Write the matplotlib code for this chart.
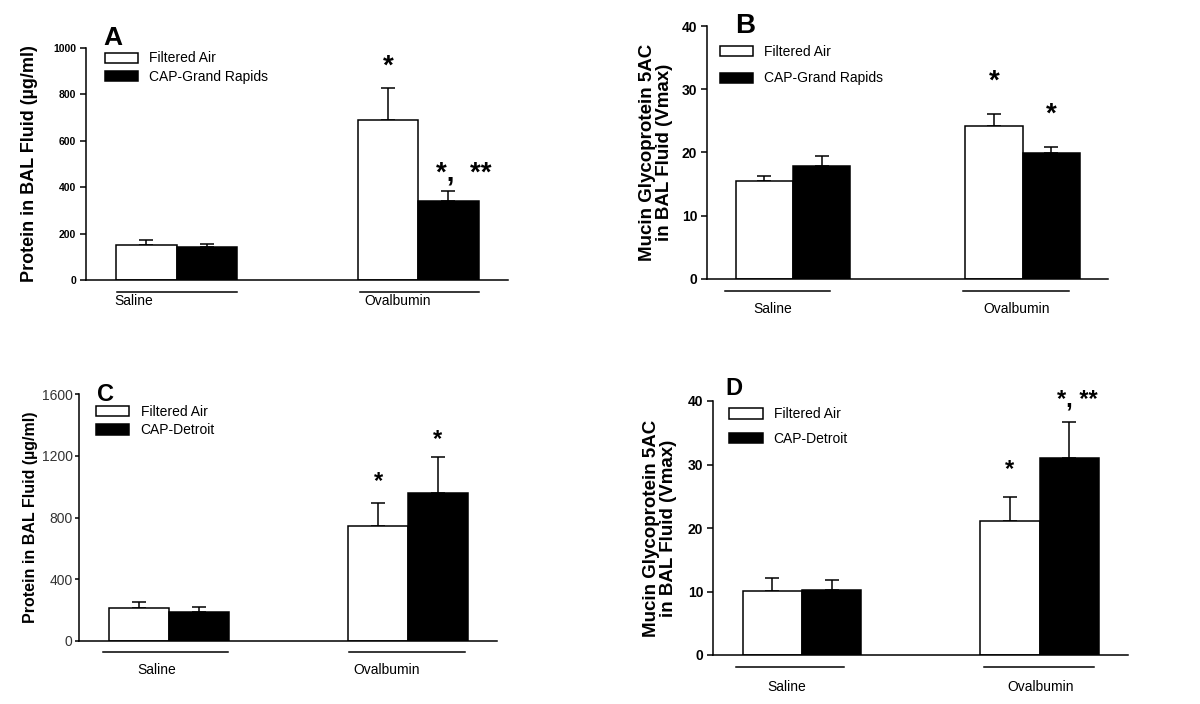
import matplotlib
matplotlib.use('Agg')
import matplotlib.pyplot as plt
from matplotlib.patches import Patch
import numpy as np

plt.rcParams['font.family'] = ['Liberation Sans', 'DejaVu Sans']

# === Data ===
groups = ['Saline', 'Ovalbumin']

fa_a = [151, 690]
fa_a_err = [20, 137]
cap_a = [141, 339]
cap_a_err = [16, 45]

fa_b = [15.5, 24.2]
fa_b_err = [0.8, 1.9]
cap_b = [17.8, 19.9]
cap_b_err = [1.6, 1.0]

fa_c = [216, 746]
fa_c_err = [35, 145]
cap_c = [188, 956]
cap_c_err = [31, 237]

fa_d = [10.1, 21.1]
fa_d_err = [2.0, 3.8]
cap_d = [10.3, 31.1]
cap_d_err = [1.5, 5.6]

yticks_a = [0, 200, 400, 600, 800, 1000]
yticks_b = [0, 10, 20, 30, 40]
yticks_c = [0, 400, 800, 1200, 1600]
yticks_d = [0, 10, 20, 30, 40]

stars_a = (['', '*'], ['', '*,  **'])
stars_b = (['', '*'], ['', '*'])
stars_c = (['', '*'], ['', '*'])
stars_d = (['', '*'], ['', '*, **'])

W, H = 1200, 704
fig = plt.figure(figsize=(12, 7.04), dpi=100)


def px_axes(left, top, right, bottom):
    return fig.add_axes([left / W, 1 - bottom / H, (right - left) / W, (bottom - top) / H])


def draw_panel(ax, letter, fa, fa_err, cap, cap_err, yticks, stars, ylabel,
               cap_name, opts):
    x = np.arange(len(groups))
    bw = 0.25
    ax.bar(x - bw / 2, fa, bw, color='white', edgecolor='black', linewidth=1.1, zorder=2)
    ax.bar(x + bw / 2, cap, bw, color='black', edgecolor='black', linewidth=1.1, zorder=2)
    ax.errorbar(x - bw / 2, fa, yerr=[np.zeros(len(fa)), fa_err], fmt='none',
                ecolor='black', elinewidth=1.1, capsize=4.8, capthick=1.1, zorder=1)
    ax.errorbar(x + bw / 2, cap, yerr=[np.zeros(len(cap)), cap_err], fmt='none',
                ecolor='black', elinewidth=1.1, capsize=4.8, capthick=1.1, zorder=1)

    # significance marks
    for xs, means, errs, labs, dx, gap in [
            (x - bw / 2, fa, fa_err, stars[0], 0, opts['gaps'][0]),
            (x + bw / 2, cap, cap_err, stars[1], opts['star_dx'], opts['gaps'][1])]:
        for xi, m, e, s in zip(xs, means, errs, labs):
            if not s:
                continue
            ox = dx if len(s) > 1 else 0
            ax.annotate(s, (xi, m + e), xytext=(ox, gap),
                        textcoords='offset points', ha='center', va='baseline',
                        fontsize=opts['star_size'], fontweight='bold')

    ax.set_xlim(-0.375, 1.372)
    ax.set_ylim(yticks[0], yticks[-1])
    ax.set_yticks(yticks)
    ax.set_xticks([])
    for s in ['top', 'right']:
        ax.spines[s].set_visible(False)
    for s in ['left', 'bottom']:
        ax.spines[s].set_linewidth(1.1)
    ax.tick_params(axis='y', direction='out', length=opts.get('tick_len', 4), width=1.1,
                   labelsize=opts['tick_size'], pad=opts.get('tick_pad', 3),
                   labelcolor=opts.get('tick_color', 'black'))
    for lab in ax.get_yticklabels():
        lab.set_fontweight(opts['tick_weight'])

    ax.set_ylabel(ylabel, fontsize=opts['ylab_size'], fontweight='bold', linespacing=1.0)
    ax.yaxis.set_label_coords(opts['ylab_x'], 0.5)

    # group underlines and names below the axis
    trans = ax.get_xaxis_transform()
    for xi, name, (lo, hi), lx in zip(x, groups, opts['lines'], opts['label_x']):
        ax.plot([xi + lo, xi + hi], [opts['line_y'], opts['line_y']], color='black',
                linewidth=1.1, transform=trans, clip_on=False)
        ax.text(xi + lx, opts['label_y'], name, transform=trans, ha=opts['label_ha'],
                va='center', fontsize=10)

    handles = [Patch(facecolor='white', edgecolor='black', linewidth=1.1),
               Patch(facecolor='black', edgecolor='black', linewidth=1.1)]
    ax.legend(handles, ['Filtered Air', cap_name], loc='upper left',
              bbox_to_anchor=opts['leg_xy'], frameon=False, fontsize=10,
              handlelength=2.4, handleheight=0.75, handletextpad=0.8,
              labelspacing=opts['leg_space'], borderpad=0, borderaxespad=0)

    ax.text(opts['letter_xy'][0], opts['letter_xy'][1], letter, transform=ax.transAxes,
            fontsize=opts['letter_size'], fontweight='bold', ha='left', va='baseline')


ax_a = px_axes(86, 48, 508, 280)
draw_panel(ax_a, 'A', fa_a, fa_a_err, cap_a, cap_a_err, yticks_a, stars_a,
           'Protein in BAL Fluid (µg/ml)', 'CAP-Grand Rapids',
           dict(gaps=(10.5, 7.5), star_size=20, star_dx=11, tick_size=7.5, tick_weight='bold',
                ylab_size=13, ylab_x=-0.114, lines=[(-0.245, 0.25), (-0.24, 0.253)],
                line_y=-0.05, label_y=-0.09, label_x=[-0.257, -0.224], label_ha='left',
                leg_xy=(0.045, 0.985), leg_space=0.3, letter_xy=(0.04, 1.013),
                letter_size=19))

ax_b = px_axes(707, 26, 1108, 279)
draw_panel(ax_b, 'B', fa_b, fa_b_err, cap_b, cap_b_err, yticks_b, stars_b,
           'Mucin Glycoprotein 5AC\nin BAL Fluid (Vmax)', 'CAP-Grand Rapids',
           dict(gaps=(18, 18), star_size=20, star_dx=0, tick_size=10, tick_weight='bold',
                ylab_size=13.5, ylab_x=-0.085, lines=[(-0.296, 0.16), (-0.26, 0.2)],
                line_y=-0.047, label_y=-0.12, label_x=[-0.087, -0.026], label_ha='center',
                leg_xy=(0.032, 0.925), leg_space=0.9, letter_xy=(0.07, 0.972),
                letter_size=20))

ax_c = px_axes(79, 394, 497, 641)
draw_panel(ax_c, 'C', fa_c, fa_c_err, cap_c, cap_c_err, yticks_c, stars_c,
           'Protein in BAL Fluid (µg/ml)', 'CAP-Detroit',
           dict(gaps=(11, 8), star_size=17, star_dx=0, tick_size=10, tick_weight='normal',
                tick_color='#333333', tick_len=3, tick_pad=1.5,
                ylab_size=11.5, ylab_x=-0.098, lines=[(-0.276, 0.247), (-0.247, 0.238)],
                line_y=-0.045, label_y=-0.118, label_x=[-0.05, -0.088], label_ha='center',
                leg_xy=(0.041, 0.955), leg_space=0.3, letter_xy=(0.043, 0.972),
                letter_size=17))

ax_d = px_axes(713, 401, 1128, 655)
draw_panel(ax_d, 'D', fa_d, fa_d_err, cap_d, cap_d_err, yticks_d, stars_d,
           'Mucin Glycoprotein 5AC\nin BAL Fluid (Vmax)', 'CAP-Detroit',
           dict(gaps=(15, 11), star_size=17, star_dx=6, tick_size=10, tick_weight='bold',
                ylab_size=13.5, ylab_x=-0.087, lines=[(-0.277, 0.176), (-0.235, 0.227)],
                line_y=-0.047, label_y=-0.126, label_x=[-0.063, 0.004], label_ha='center',
                leg_xy=(0.039, 0.975), leg_space=0.75, letter_xy=(0.031, 1.024),
                letter_size=17))

fig.savefig('out.png', dpi=100)
